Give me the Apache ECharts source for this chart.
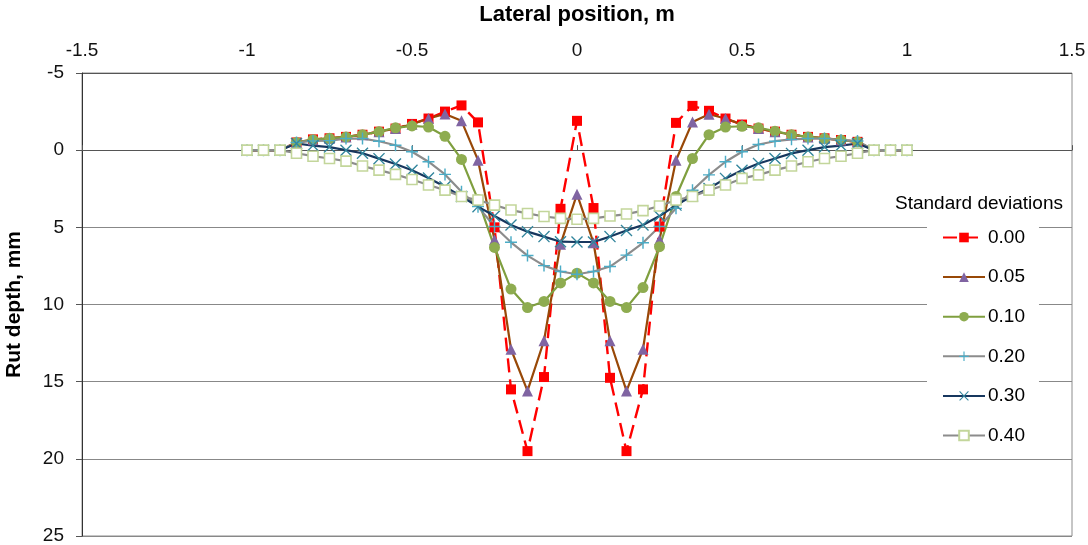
<!DOCTYPE html>
<html>
<head>
<meta charset="utf-8">
<script src="https://cdn.jsdelivr.net/npm/echarts@6/dist/echarts.min.js"></script>
<style>
html,body{margin:0;padding:0;background:#fff;}
#chart{width:1088px;height:545px;}
</style>
</head>
<body>
<div id="chart"></div>
<script>
// lateral positions, m
var xPos = [-1,-0.95,-0.9,-0.85,-0.8,-0.75,-0.7,-0.65,-0.6,-0.55,-0.5,-0.45,-0.4,-0.35,-0.3,-0.25,-0.2,-0.15,-0.1,-0.05,
    0,0.05,0.1,0.15,0.2,0.25,0.3,0.35,0.4,0.45,0.5,0.55,0.6,0.65,0.7,0.75,0.8,0.85,0.9,0.95,1];

// rut depth (mm) for each standard deviation
var sd000 = [0,0,0,-0.5,-0.7,-0.77,-0.86,-1.0,-1.2,-1.4,-1.7,-2.05,-2.5,-2.9,-1.8,5.0,15.5,19.5,14.7,3.8,
    -1.9,3.75,14.75,19.5,15.5,4.95,-1.77,-2.87,-2.55,-2.05,-1.66,-1.4,-1.2,-1.0,-0.86,-0.77,-0.66,-0.54,0,0,0];
var sd005 = [0,0,0,-0.5,-0.68,-0.77,-0.86,-1.0,-1.2,-1.4,-1.68,-2.05,-2.35,-1.9,0.65,5.8,12.9,15.6,12.35,6.1,
    2.85,6.0,12.35,15.6,12.9,5.8,0.65,-1.83,-2.33,-2.05,-1.66,-1.4,-1.2,-1.0,-0.86,-0.77,-0.66,-0.54,0,0,0];
var sd010 = [0,0,0,-0.5,-0.68,-0.77,-0.86,-1.0,-1.2,-1.45,-1.57,-1.5,-0.9,0.6,3.2,6.3,9.0,10.2,9.8,8.6,
    7.97,8.6,9.8,10.2,8.9,6.25,3.0,0.54,-1.0,-1.5,-1.55,-1.45,-1.23,-1.0,-0.86,-0.77,-0.66,-0.54,0,0,0];
var sd020 = [0,0,0,-0.5,-0.6,-0.62,-0.75,-0.75,-0.58,-0.32,0.1,0.75,1.57,2.7,3.66,4.95,5.97,6.83,7.48,7.86,
    8.04,7.86,7.54,6.8,6.0,4.95,3.77,2.6,1.6,0.75,0.1,-0.37,-0.58,-0.7,-0.75,-0.75,-0.65,-0.6,0,0,0];
var sd030 = [0,0,0,-0.43,-0.3,-0.2,0,0.2,0.55,0.9,1.3,1.8,2.37,3.0,3.66,4.27,4.85,5.28,5.6,5.93,
    5.95,5.95,5.6,5.2,4.85,4.27,3.56,2.97,2.48,1.83,1.3,0.86,0.54,0.21,0,-0.2,-0.3,-0.43,0,0,0];
var sd040 = [0,0,0,0.2,0.39,0.54,0.71,1.03,1.29,1.57,1.9,2.26,2.59,3.0,3.23,3.56,3.88,4.1,4.3,4.42,
    4.48,4.42,4.27,4.14,3.92,3.62,3.23,3.0,2.59,2.26,1.83,1.6,1.29,1.03,0.75,0.54,0.39,0.2,0,0,0];

var legendNames = ['0.00','0.05','0.10','0.20','0.30','0.40'];

function pairs(ys){
    return xPos.map(function(x,i){ return [x, ys[i]]; });
}

var plusPath = 'path://M0,4.4H4.4V0H5.6V4.4H10V5.6H5.6V10H4.4V5.6H0Z';
var crossPath = 'path://M0,0.8L0.8,0L5,4.2L9.2,0L10,0.8L5.8,5L10,9.2L9.2,10L5,5.8L0.8,10L0,9.2L4.2,5Z';

var font = 'Liberation Sans, Arial, sans-serif';
var myChart = echarts.init(document.getElementById('chart'));

var option = {
    animation: false,
    textStyle: {fontFamily: font, color: '#000'},
    title: {
        text: 'Standard deviations',
        left: 890, top: 189,
        textStyle: {fontFamily: font, fontSize: 19, fontWeight: 'normal', color: '#000'}
    },
    legend: {
        orient: 'vertical',
        left: 927, top: 222,
        padding: [6, 14, 6, 15],
        backgroundColor: '#fff',
        itemWidth: 42,
        itemHeight: 12,
        itemGap: 20.6,
        data: legendNames,
        textStyle: {fontFamily: font, fontSize: 19, color: '#000', padding: [0,0,0,-2]}
    },
    grid: {
        left: 82, right: 16, top: 73, bottom: 9,
        outerBoundsMode: 'none',
        containLabel: false,
        show: true, borderColor: '#8c8c8c', borderWidth: 1
    },
    xAxis: {
        type: 'value',
        position: 'top',
        min: -1.5, max: 1.5, interval: 0.5,
        name: 'Lateral position, m',
        nameLocation: 'middle',
        nameGap: 47,
        nameTextStyle: {fontFamily: font, fontSize: 22, fontWeight: 'bold', color: '#000'},
        axisLine: {show: true, lineStyle: {color: '#555', width: 1}},
        axisTick: {show: true, length: 5, lineStyle: {color: '#555'}},
        axisLabel: {fontSize: 19, color: '#111', margin: 13},
        splitLine: {show: false}
    },
    yAxis: {
        type: 'value',
        inverse: true,
        min: -5, max: 25, interval: 5,
        name: 'Rut depth, mm',
        nameLocation: 'middle',
        nameGap: 57,
        nameTextStyle: {fontFamily: font, fontSize: 21, fontWeight: 'bold', color: '#000'},
        axisLine: {show: true, onZero: false, lineStyle: {color: '#333', width: 1}},
        axisTick: {show: true, length: 6, lineStyle: {color: '#555'}},
        axisLabel: {fontSize: 19, color: '#111', margin: 18},
        splitLine: {show: true, lineStyle: {color: ['#555','#333','#888','#888','#888','#888','#888'], width: 1}}
    },
    series: [
        {
            name: '0.00', type: 'line', data: pairs(sd000),
            symbol: 'rect', symbolSize: 10,
            lineStyle: {color: '#ff0000', width: 2.4, type: [14, 7]},
            itemStyle: {color: '#ff0000'}
        },
        {
            name: '0.05', type: 'line', data: pairs(sd005),
            symbol: 'triangle', symbolSize: 11,
            lineStyle: {color: '#984807', width: 2.2},
            itemStyle: {color: '#8064a2'}
        },
        {
            name: '0.10', type: 'line', data: pairs(sd010),
            symbol: 'circle', symbolSize: 11,
            lineStyle: {color: '#7f9f3f', width: 2.2},
            itemStyle: {color: '#8eac50'}
        },
        {
            name: '0.20', type: 'line', data: pairs(sd020),
            symbol: plusPath, symbolSize: 12,
            lineStyle: {color: '#8c8c8c', width: 2.2},
            itemStyle: {color: '#4bacc6'}
        },
        {
            name: '0.30', type: 'line', data: pairs(sd030),
            symbol: crossPath, symbolSize: 12,
            lineStyle: {color: '#17375e', width: 2.2},
            itemStyle: {color: '#31859c'}
        },
        {
            name: '0.40', type: 'line', data: pairs(sd040),
            symbol: 'rect', symbolSize: 10,
            lineStyle: {color: '#8c8c8c', width: 2.2},
            itemStyle: {color: '#fff', borderColor: '#c3d69b', borderWidth: 1.6}
        }
    ]
};

myChart.setOption(option);
</script>
</body>
</html>
